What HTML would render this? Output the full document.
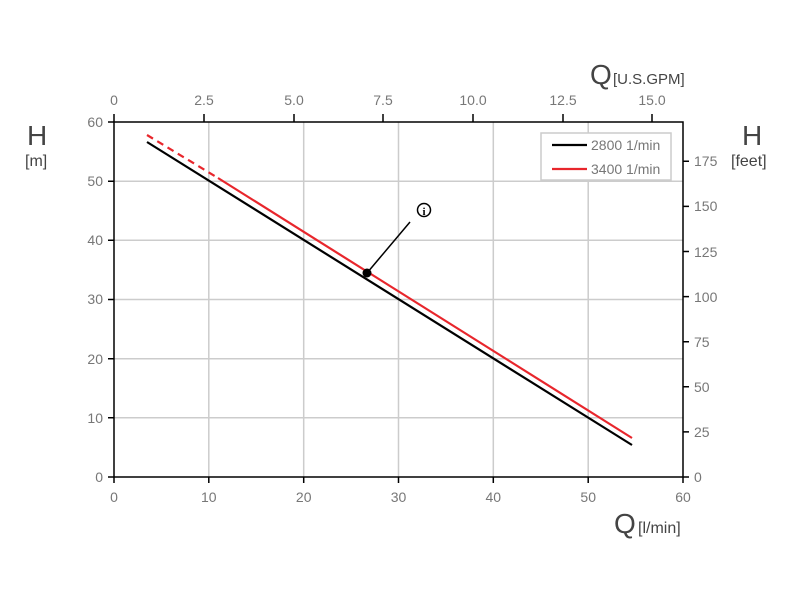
<!DOCTYPE html>
<html><head><style>body{margin:0;background:#fff}</style></head><body>
<svg width="800" height="600" xmlns="http://www.w3.org/2000/svg" font-family="Liberation Sans, sans-serif">
<g stroke="#ccc" stroke-width="1.5">
<line x1="208.8" y1="122" x2="208.8" y2="477"/><line x1="303.7" y1="122" x2="303.7" y2="477"/><line x1="398.5" y1="122" x2="398.5" y2="477"/><line x1="493.3" y1="122" x2="493.3" y2="477"/><line x1="588.2" y1="122" x2="588.2" y2="477"/>
<line x1="114" y1="181.2" x2="683" y2="181.2"/><line x1="114" y1="240.3" x2="683" y2="240.3"/><line x1="114" y1="299.5" x2="683" y2="299.5"/><line x1="114" y1="358.7" x2="683" y2="358.7"/><line x1="114" y1="417.8" x2="683" y2="417.8"/>
</g>
<g stroke="#000" stroke-width="1.5" fill="none">
<rect x="114" y="122" width="569" height="355"/>
<path d="M114 477v6M208.8 477v6M303.7 477v6M398.5 477v6M493.3 477v6M588.2 477v6M683 477v6"/>
<path d="M108 122h6M108 181.2h6M108 240.3h6M108 299.5h6M108 358.7h6M108 417.8h6M108 477h6"/>
<path d="M114 122v-8M204 122v-8M294 122v-8M383 122v-8M473 122v-8M563 122v-8M652 122v-8"/>
<path d="M683 477h6M683 431.9h6M683 386.8h6M683 341.7h6M683 296.6h6M683 251.5h6M683 206.4h6M683 161.3h6"/>
</g>
<g fill="#777" font-size="14">
<g text-anchor="middle">
<text x="114" y="502">0</text><text x="208.8" y="502">10</text><text x="303.7" y="502">20</text><text x="398.5" y="502">30</text><text x="493.3" y="502">40</text><text x="588.2" y="502">50</text><text x="683" y="502">60</text>
<text x="114" y="105">0</text><text x="204" y="105">2.5</text><text x="294" y="105">5.0</text><text x="383" y="105">7.5</text><text x="473" y="105">10.0</text><text x="563" y="105">12.5</text><text x="652" y="105">15.0</text>
</g>
<g text-anchor="end">
<text x="103" y="127">60</text><text x="103" y="186">50</text><text x="103" y="245">40</text><text x="103" y="304">30</text><text x="103" y="364">20</text><text x="103" y="423">10</text><text x="103" y="482">0</text>
</g>
<text x="694" y="482">0</text><text x="694" y="437">25</text><text x="694" y="392">50</text><text x="694" y="347">75</text><text x="694" y="302">100</text><text x="694" y="257">125</text><text x="694" y="211">150</text><text x="694" y="166">175</text>
</g>
<g fill="#444">
<text x="27" y="145" font-size="28">H</text><text x="25" y="166" font-size="16">[m]</text>
<text x="742" y="145" font-size="28">H</text><text x="731" y="166" font-size="16">[feet]</text>
<text x="590" y="84" font-size="28">Q</text><text x="613" y="84" font-size="15">[U.S.GPM]</text>
<text x="614" y="533" font-size="28">Q</text><text x="638" y="533" font-size="16">[l/min]</text>
</g>
<line x1="147" y1="135" x2="218" y2="178" stroke="#e8262c" stroke-width="2.2" stroke-dasharray="7,5"/>
<line x1="218" y1="178" x2="632" y2="438" stroke="#e8262c" stroke-width="2.2"/>
<line x1="147" y1="142" x2="632" y2="445" stroke="#000" stroke-width="2.2"/>
<line x1="367" y1="273" x2="410" y2="222" stroke="#000" stroke-width="1.5"/>
<circle cx="367" cy="273" r="4.5" fill="#000"/>
<circle cx="424" cy="210" r="6.5" fill="#fff" stroke="#000" stroke-width="1.5"/>
<text x="424" y="215" font-size="11" font-weight="bold" text-anchor="middle" font-family="Liberation Serif, serif">i</text>
<rect x="541" y="133" width="130" height="47" fill="#fff" stroke="#ccc" stroke-width="1.5"/>
<line x1="552" y1="145" x2="587" y2="145" stroke="#000" stroke-width="2.2"/>
<line x1="552" y1="169" x2="587" y2="169" stroke="#e8262c" stroke-width="2.2"/>
<g fill="#777" font-size="14"><text x="591" y="150">2800 1/min</text><text x="591" y="174">3400 1/min</text></g>
</svg>
</body></html>
